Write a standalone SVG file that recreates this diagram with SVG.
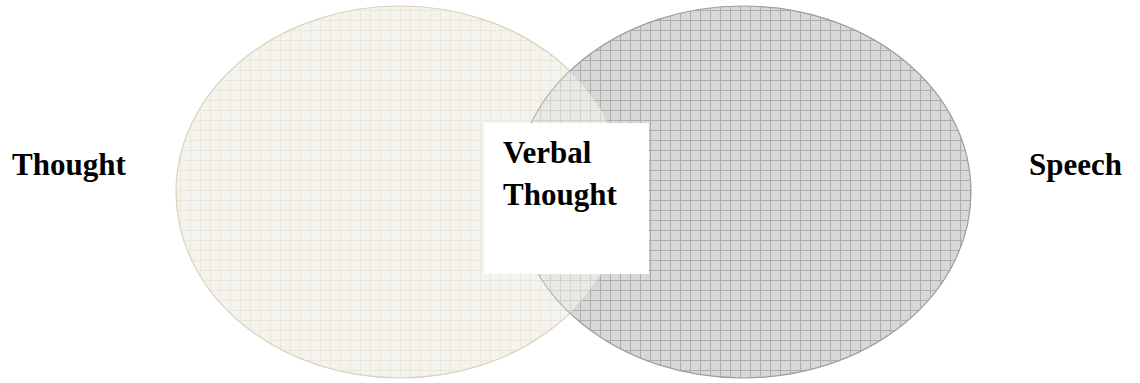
<svg xmlns="http://www.w3.org/2000/svg" width="1140" height="383" viewBox="0 0 1140 383">
  <defs>
    <pattern id="beigeGrid" x="0" y="0" width="10" height="10" patternUnits="userSpaceOnUse">
      <rect width="10" height="10" fill="#f4f3ee"/>
      <path d="M0 0.5H10M0.5 0V10" stroke="#eae7dd" stroke-width="1" fill="none"/>
    </pattern>
    <pattern id="greyGrid" x="0" y="0" width="10" height="10" patternUnits="userSpaceOnUse">
      <rect width="10" height="10" fill="#d8d8d8"/>
      <path d="M0 0.5H10M0.5 0V10" stroke="#adadad" stroke-width="1" fill="none"/>
    </pattern>
    <clipPath id="rightClip">
      <ellipse cx="743" cy="192" rx="228" ry="186"/>
    </clipPath>
  </defs>
  <style>
    .lbl { font-family: "Liberation Serif", "Times New Roman", serif; font-weight: bold; font-size: 31px; fill: #000; }
    .left { fill: url(#beigeGrid); stroke: #d9d3b9; stroke-width: 1.2; }
    .right { fill: url(#greyGrid); stroke: #9d9d9d; stroke-width: 1.2; }
  </style>

  <g id="thought-circle">
    <ellipse class="left" cx="400" cy="192" rx="224" ry="186"/>
  </g>
  <g id="speech-circle">
    <ellipse class="right" cx="743" cy="192" rx="228" ry="186"/>
    <g clip-path="url(#rightClip)" opacity="0.62">
      <ellipse class="left" cx="400" cy="192" rx="224" ry="186"/>
    </g>
  </g>
  <g id="verbal-thought">
    <rect x="484" y="123" width="165" height="151" fill="#ffffff"/>
    <text class="lbl" x="503" y="163">Verbal</text>
    <text class="lbl" x="503" y="205">Thought</text>
  </g>
  <g id="thought-label">
    <text class="lbl" x="12" y="175">Thought</text>
  </g>
  <g id="speech-label">
    <text class="lbl" x="1029" y="175">Speech</text>
  </g>
</svg>
